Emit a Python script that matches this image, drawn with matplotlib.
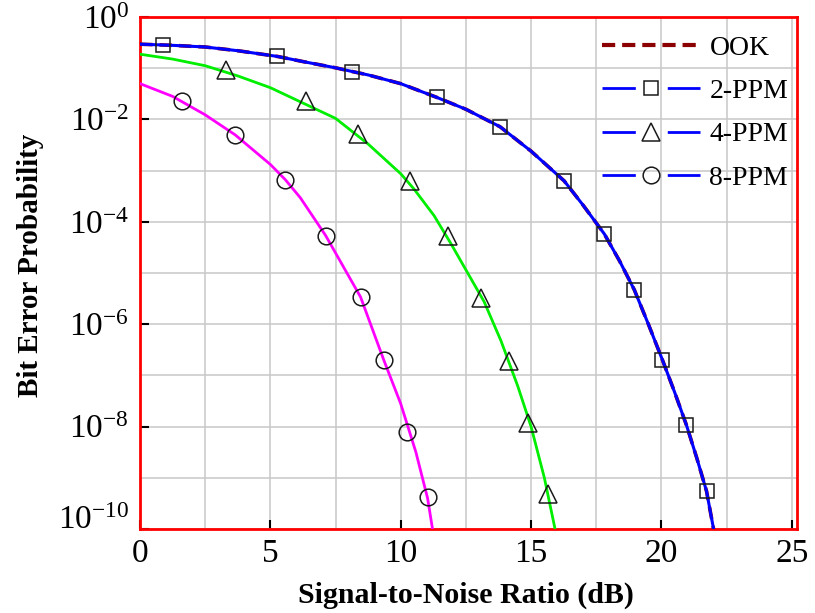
import matplotlib
matplotlib.use("Agg")
import matplotlib.pyplot as plt
from matplotlib.lines import Line2D
from matplotlib.ticker import FixedLocator, LogFormatterMathtext, NullFormatter

plt.rcParams["font.family"] = ["Liberation Serif", "DejaVu Serif"]
plt.rcParams["mathtext.fontset"] = "custom"
plt.rcParams["mathtext.rm"] = "Liberation Serif"
plt.rcParams["mathtext.default"] = "regular"
plt.rcParams["lines.scale_dashes"] = False

# analytic curves (SNR in dB, bit error probability)
ook_snr = [0, 1.25, 2.5, 3.75, 5.27, 6.25, 7.5, 8.15, 8.75, 10, 11.38, 12.5, 13.81, 15,
           16.27, 17.0, 17.81, 18.4, 18.96, 19.5, 20.04, 20.5, 20.96, 21.35, 21.73, 22.0]
ook_ber = [2.95e-1, 2.8e-1, 2.6e-1, 2.2e-1, 1.7e-1, 1.35e-1, 1.02e-1, 8.6e-2, 7.4e-2, 5.0e-2,
           2.7e-2, 1.58e-2, 7.2e-3, 2.4e-3, 6.3e-4, 2.1e-4, 5.8e-5, 1.7e-5, 4.7e-6, 1.0e-6,
           2.0e-7, 4.8e-8, 1.07e-8, 2.5e-9, 5.5e-10, 1.0e-10]

# 2-PPM coincides with OOK
ppm2_snr = ook_snr
ppm2_ber = ook_ber

ppm4_snr = [0, 1.25, 2.5, 3.75, 5, 6.25, 7.5, 8.75, 10, 10.51, 11.28, 11.92, 12.57, 13.2,
            13.85, 14.49, 15.0, 15.51, 15.92]
ppm4_ber = [1.88e-1, 1.51e-1, 1.12e-1, 7.08e-2, 4.17e-2, 2.09e-2, 1.05e-2, 3.31e-3, 8.7e-4,
            4.37e-4, 1.32e-4, 3.8e-5, 1.0e-5, 2.75e-6, 4.68e-7, 6.17e-8, 1.0e-8, 1.0e-9,
            1.0e-10]

ppm8_snr = [0, 1.25, 2.5, 3.65, 5, 5.58, 6.15, 7.12, 8.46, 9.35, 10.0, 10.58, 11.03, 11.22]
ppm8_ber = [5.0e-2, 2.82e-2, 1.23e-2, 5.0e-3, 1.32e-3, 6.6e-4, 2.95e-4, 5.4e-5, 3.4e-6,
            2.0e-7, 2.8e-8, 3.2e-9, 4.0e-10, 1.0e-10]

# simulated points
ppm2_sim_snr = [0.88, 5.27, 8.15, 11.38, 13.81, 16.27, 17.81, 18.96, 20.04, 20.96, 21.73]
ppm2_sim_ber = [2.9e-1, 1.7e-1, 8.6e-2, 2.7e-2, 7.2e-3, 6.3e-4, 5.8e-5, 4.7e-6, 2.0e-7,
                1.07e-8, 5.5e-10]
ppm4_sim_snr = [3.31, 6.35, 8.38, 10.35, 11.8, 13.08, 14.15, 14.88, 15.65]
ppm4_sim_ber = [9.4e-2, 2.3e-2, 5.2e-3, 6.3e-4, 5.4e-5, 3.2e-6, 1.9e-7, 1.2e-8, 4.8e-10]
ppm8_sim_snr = [1.62, 3.65, 5.58, 7.12, 8.46, 9.35, 10.26, 11.04]
ppm8_sim_ber = [2.3e-2, 5.0e-3, 6.6e-4, 5.4e-5, 3.4e-6, 2.0e-7, 7.8e-9, 4.3e-10]

legend_labels = ["OOK", "2-PPM", "4-PPM", "8-PPM"]
x_major = [0, 5, 10, 15, 20, 25]
x_minor = [2.5, 7.5, 12.5, 17.5, 22.5]
y_major = [1e-10, 1e-8, 1e-6, 1e-4, 1e-2, 1e0]
y_minor = [1e-9, 1e-7, 1e-5, 1e-3, 1e-1]

fig = plt.figure(figsize=(8.15, 6.13), dpi=100)
ax = fig.add_axes([0.1718, 0.137, 0.8061, 0.8352])

ax.plot(ook_snr, ook_ber, color="#8b0000", lw=2.6, dashes=(9, 5), zorder=3)
ax.plot(ppm2_snr, ppm2_ber, color="#0000ff", lw=2.2, zorder=4)
ax.plot(ppm4_snr, ppm4_ber, color="#00ee00", lw=2.0, zorder=4)
ax.plot(ppm8_snr, ppm8_ber, color="#ff00ff", lw=2.0, zorder=4)

mk = dict(ls="none", mfc="none", mec="#1a1a1a", mew=1.1, zorder=5)
ax.plot(ppm2_sim_snr, ppm2_sim_ber, marker="s", ms=10.5, **mk)
ax.plot(ppm4_sim_snr, ppm4_sim_ber, marker="^", ms=13, **mk)
ax.plot(ppm8_sim_snr, ppm8_sim_ber, marker="o", ms=12, **mk)

ax.set_yscale("log")
ax.set_xlim(0, 25.2)
ax.set_ylim(1e-10, 1.0)

ax.xaxis.set_major_locator(FixedLocator(x_major))
ax.xaxis.set_minor_locator(FixedLocator(x_minor))
ax.yaxis.set_major_locator(FixedLocator(y_major))
ax.yaxis.set_minor_locator(FixedLocator(y_minor))
ax.yaxis.set_major_formatter(LogFormatterMathtext())
ax.yaxis.set_minor_formatter(NullFormatter())

ax.tick_params(which="major", direction="in", length=6.5, width=1.5, color="black",
               labelsize=24, top=False, right=False)
ax.tick_params(axis="x", which="major", pad=6.5)
ax.tick_params(axis="y", which="major", pad=8)
ax.tick_params(which="minor", length=0)
ax.grid(True, which="both", color="#c8c8c8", lw=1.1)
ax.set_axisbelow(True)

for s in ax.spines.values():
    s.set_color("red")
    s.set_linewidth(2)

# keep the bottom and top decade labels inside the frame height
yticks = ax.yaxis.get_major_ticks()
yticks[0].label1.set_verticalalignment("baseline")
yticks[-1].label1.set_verticalalignment("center_baseline")

ax.set_xlabel("Signal-to-Noise Ratio (dB)", fontsize=21.5, fontweight="bold")
ax.set_ylabel("Bit Error Probability", fontsize=21, fontweight="bold")
ax.xaxis.set_label_coords(0.496, -0.1035)
ax.yaxis.set_label_coords(-0.146, 0.514)

handles = [
    Line2D([], [], color="#8b0000", lw=3, dashes=(9.5, 5)),
    Line2D([], [], color="#0000ff", lw=2, dashes=(24, 23), marker="s", ms=10.5,
           mfc="none", mec="#1a1a1a", mew=1.1),
    Line2D([], [], color="#0000ff", lw=2, dashes=(24, 23), marker="^", ms=13,
           mfc="none", mec="#1a1a1a", mew=1.1),
    Line2D([], [], color="#0000ff", lw=2, dashes=(24, 23), marker="o", ms=12,
           mfc="none", mec="#1a1a1a", mew=1.1),
]
ax.legend(handles, legend_labels, loc="upper right", bbox_to_anchor=(0.995, 0.975),
          frameon=False, fontsize=20, handlelength=3.53, handletextpad=0.35,
          labelspacing=0.64, borderaxespad=0, borderpad=0.2)

fig.savefig("out.png", dpi=100)
